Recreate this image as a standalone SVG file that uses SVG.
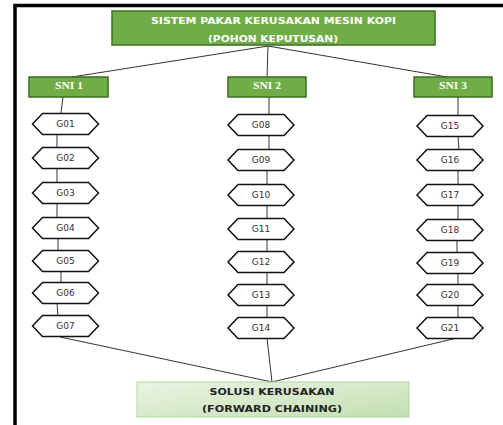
<svg xmlns="http://www.w3.org/2000/svg" width="503" height="425" viewBox="0 0 503 425">
<defs>
<linearGradient id="lg" x1="0" y1="0" x2="1" y2="1">
<stop offset="0" stop-color="#EAF4E3"/>
<stop offset="1" stop-color="#C3DFB0"/>
</linearGradient>
<polygon id="hex" points="-33,0 -23,-10.5 23,-10.5 33,0 23,10.5 -23,10.5"/>
</defs>
<style>
.g{fill:#70AD47;stroke:#3E6B27;stroke-width:1.5}
.tt{font-family:"DejaVu Sans",Verdana,sans-serif;font-weight:bold;font-size:9.5px;fill:#fff;text-anchor:middle}
.sn{font-family:"Liberation Serif","Times New Roman",serif;font-weight:bold;font-size:10.5px;fill:#fff;text-anchor:middle}
.hx{fill:#fff;stroke:#111;stroke-width:1.5}
.ht{font-family:"DejaVu Sans",Verdana,sans-serif;font-size:9px;fill:#333;text-anchor:middle}
.bt{font-family:"DejaVu Sans",Verdana,sans-serif;font-weight:bold;font-size:9.5px;fill:#222;text-anchor:middle}
.c{stroke:#333;stroke-width:1;fill:none}
</style>
<rect width="503" height="425" fill="#fff"/>
<path d="M15,425 V5.5 H503" fill="none" stroke="#000" stroke-width="3.5"/>
<g id="connectors">
<line class="c" x1="268" y1="46" x2="72" y2="77"/>
<line class="c" x1="268" y1="46" x2="267" y2="77"/>
<line class="c" x1="268" y1="46" x2="447" y2="77"/>
<line class="c" x1="63" y1="97" x2="61" y2="113"/>
<line class="c" x1="57" y1="134" x2="57" y2="148"/>
<line class="c" x1="57" y1="168" x2="57" y2="183"/>
<line class="c" x1="57" y1="203" x2="57" y2="218"/>
<line class="c" x1="58" y1="238" x2="58" y2="251"/>
<line class="c" x1="61" y1="271" x2="61" y2="283"/>
<line class="c" x1="57" y1="303" x2="58" y2="316"/>
<line class="c" x1="269" y1="97" x2="269" y2="115"/>
<line class="c" x1="269" y1="135" x2="269" y2="150"/>
<line class="c" x1="267" y1="170" x2="267" y2="185"/>
<line class="c" x1="267" y1="205" x2="267" y2="219"/>
<line class="c" x1="267" y1="239" x2="267" y2="252"/>
<line class="c" x1="267" y1="272" x2="267" y2="285"/>
<line class="c" x1="267" y1="305" x2="267" y2="318"/>
<line class="c" x1="458" y1="97" x2="458" y2="116"/>
<line class="c" x1="458" y1="136" x2="459" y2="150"/>
<line class="c" x1="458" y1="170" x2="458" y2="185"/>
<line class="c" x1="458" y1="205" x2="458" y2="220"/>
<line class="c" x1="457" y1="240" x2="457" y2="253"/>
<line class="c" x1="458" y1="273" x2="458" y2="285"/>
<line class="c" x1="458" y1="305" x2="458" y2="318"/>
<line class="c" x1="60" y1="337" x2="272" y2="382"/>
<line class="c" x1="267" y1="338" x2="272" y2="382"/>
<line class="c" x1="457" y1="338" x2="272" y2="382"/>
</g>
<g id="title">
<rect class="g" x="112" y="11" width="323" height="34"/>
<text class="tt" x="273.5" y="24" textLength="245" lengthAdjust="spacingAndGlyphs">SISTEM PAKAR KERUSAKAN MESIN KOPI</text>
<text class="tt" x="273" y="41.5" textLength="130" lengthAdjust="spacingAndGlyphs">(POHON KEPUTUSAN)</text>
</g>
<g id="sni1"><rect class="g" x="29" y="77" width="79" height="20"/><text class="sn" x="69" y="88.5" textLength="28" lengthAdjust="spacingAndGlyphs">SNI 1</text></g>
<g id="sni2"><rect class="g" x="228" y="77" width="78" height="20"/><text class="sn" x="267" y="88.5" textLength="28" lengthAdjust="spacingAndGlyphs">SNI 2</text></g>
<g id="sni3"><rect class="g" x="414" y="77" width="78" height="20"/><text class="sn" x="453" y="88.5" textLength="28" lengthAdjust="spacingAndGlyphs">SNI 3</text></g>
<g id="G01" transform="translate(65.5,124)"><use href="#hex" class="hx"/><text class="ht" y="3.3">G01</text></g>
<g id="G02" transform="translate(65.5,158)"><use href="#hex" class="hx"/><text class="ht" y="3.3">G02</text></g>
<g id="G03" transform="translate(65.5,193)"><use href="#hex" class="hx"/><text class="ht" y="3.3">G03</text></g>
<g id="G04" transform="translate(65.5,228)"><use href="#hex" class="hx"/><text class="ht" y="3.3">G04</text></g>
<g id="G05" transform="translate(65.5,261)"><use href="#hex" class="hx"/><text class="ht" y="3.3">G05</text></g>
<g id="G06" transform="translate(65.5,293)"><use href="#hex" class="hx"/><text class="ht" y="3.3">G06</text></g>
<g id="G07" transform="translate(65.5,326)"><use href="#hex" class="hx"/><text class="ht" y="3.3">G07</text></g>
<g id="G08" transform="translate(261,125)"><use href="#hex" class="hx"/><text class="ht" y="3.3">G08</text></g>
<g id="G09" transform="translate(261,160)"><use href="#hex" class="hx"/><text class="ht" y="3.3">G09</text></g>
<g id="G10" transform="translate(261,195)"><use href="#hex" class="hx"/><text class="ht" y="3.3">G10</text></g>
<g id="G11" transform="translate(261,229)"><use href="#hex" class="hx"/><text class="ht" y="3.3">G11</text></g>
<g id="G12" transform="translate(261,262)"><use href="#hex" class="hx"/><text class="ht" y="3.3">G12</text></g>
<g id="G13" transform="translate(261,295)"><use href="#hex" class="hx"/><text class="ht" y="3.3">G13</text></g>
<g id="G14" transform="translate(261,328)"><use href="#hex" class="hx"/><text class="ht" y="3.3">G14</text></g>
<g id="G15" transform="translate(450,126)"><use href="#hex" class="hx"/><text class="ht" y="3.3">G15</text></g>
<g id="G16" transform="translate(450,160)"><use href="#hex" class="hx"/><text class="ht" y="3.3">G16</text></g>
<g id="G17" transform="translate(450,195)"><use href="#hex" class="hx"/><text class="ht" y="3.3">G17</text></g>
<g id="G18" transform="translate(450,230)"><use href="#hex" class="hx"/><text class="ht" y="3.3">G18</text></g>
<g id="G19" transform="translate(450,263)"><use href="#hex" class="hx"/><text class="ht" y="3.3">G19</text></g>
<g id="G20" transform="translate(450,295)"><use href="#hex" class="hx"/><text class="ht" y="3.3">G20</text></g>
<g id="G21" transform="translate(450,328)"><use href="#hex" class="hx"/><text class="ht" y="3.3">G21</text></g>
<g id="solusi">
<rect x="137" y="382" width="272" height="35" fill="url(#lg)" stroke="#B5D3A2" stroke-width="1"/>
<text class="bt" x="272" y="394.5" textLength="125" lengthAdjust="spacingAndGlyphs">SOLUSI KERUSAKAN</text>
<text class="bt" x="272" y="412" textLength="140" lengthAdjust="spacingAndGlyphs">(FORWARD CHAINING)</text>
</g>
</svg>
